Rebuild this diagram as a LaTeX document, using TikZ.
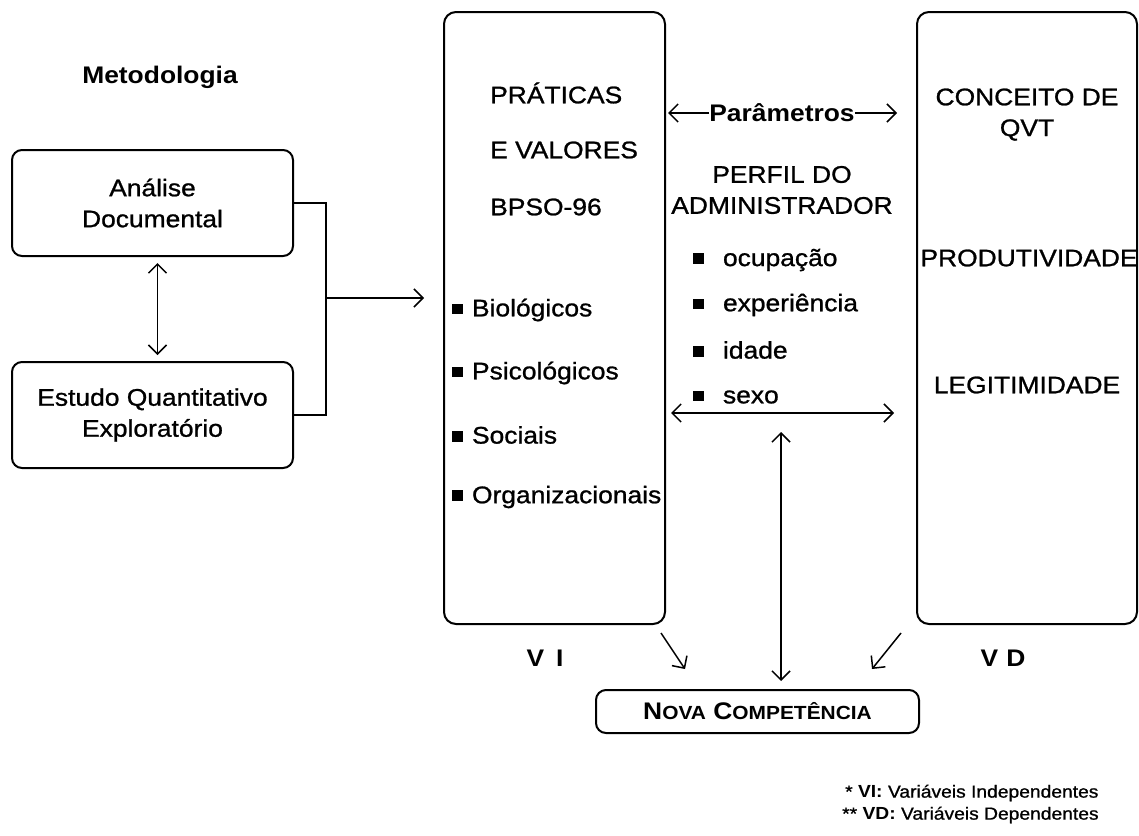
\documentclass[tikz,border=0pt]{standalone}
\usepackage{fontspec}
\setmainfont{Liberation Sans}[FakeStretch=1.1,UprightFeatures={FakeBold=1.0}]
\usetikzlibrary{arrows.meta,calc}
\newcommand\sqb{\rule[0.08em]{0.45em}{0.45em}}
\begin{document}
\begin{tikzpicture}[x=1pt,y=-1pt,
  box/.style={draw,line width=2pt,rounded corners=10pt,fill=white,inner sep=0pt},
  txt/.style={font=\fontsize{24}{31}\selectfont,inner sep=0pt},
  btxt/.style={font=\bfseries\fontsize{24}{31}\selectfont,inner sep=0pt},
  arr/.style={line width=1.5pt,-{Straight Barb[length=9pt,width=18pt,line width=1.5pt]}},
  dbl/.style={line width=1.5pt,{Straight Barb[length=9pt,width=18pt,line width=1.5pt]}-{Straight Barb[length=9pt,width=18pt,line width=1.5pt]}},
  note/.style={font=\fontsize{17.5}{20}\selectfont,inner sep=0pt,anchor=west}]
\useasboundingbox (0,0) rectangle (1139,835);

% methodology column
\node[btxt] (met) at (160,77) {Metodologia};
\node[box,txt,minimum width=281pt,minimum height=106pt,align=center] (ana) at (152.5,203) {Análise\\Documental};
\node[box,txt,minimum width=281pt,minimum height=106pt,align=center] (est) at (152.5,415) {Estudo Quantitativo\\Exploratório};
\draw[dbl,shorten <=6pt,shorten >=6pt] ($(ana.south)+(5,0)$) -- ($(est.north)+(5,0)$);
\coordinate (jn) at (326,298);
\draw[line width=1.5pt] (ana.east) -| (jn) |- (est.east);

% independent variables
\node[box,rounded corners=12pt,minimum width=221pt,minimum height=612pt] (prat) at (554.5,318) {};
\draw[arr,shorten >=19pt] (jn) -- (prat.west |- jn);
\node[txt,anchor=west] (p1) at (490,93) {PRÁTICAS};
\node[txt,anchor=west] (p2) at (490,150) {E VALORES};
\node[txt,anchor=west] (p3) at (490,207) {BPSO-96};
\node[txt,anchor=west] (b1) at (452,310) {\sqb\hspace{9pt}Biológicos};
\node[txt,anchor=west] (b2) at (452,373) {\sqb\hspace{9pt}Psicológicos};
\node[txt,anchor=west] (b3) at (452,435) {\sqb\hspace{9pt}Sociais};
\node[txt,anchor=west] (b4) at (452,497) {\sqb\hspace{9pt}Organizacionais};
\node[btxt] (vi) at (545,658) {V\hspace{12pt}I};

% dependent variables
\node[box,rounded corners=12pt,minimum width=220pt,minimum height=612pt] (qvt) at (1027,318) {};
\node[txt] (q1) at (1027,97) {CONCEITO DE};
\node[txt] (q2) at (1027,130) {QVT};
\node[txt] (q3) at (1029,258) {PRODUTIVIDADE};
\node[txt] (q4) at (1027,385) {LEGITIMIDADE};
\node[btxt] (vd) at (1003,658) {V\hspace{8pt}D};

% administrator profile
\node[btxt,fill=white] (par) at (782,113) {Parâmetros};
\draw[arr,shorten >=2pt] (par.west) -- (prat.east |- par);
\draw[arr,shorten >=19pt] (par.east) -- (qvt.west |- par);
\node[txt,align=center] (perf) at (782,190) {PERFIL DO\\ADMINISTRADOR};
\node[txt,anchor=west] (r1) at (693,260) {\sqb\hspace{19pt}ocupação};
\node[txt,anchor=west] (r2) at (693,305) {\sqb\hspace{19pt}experiência};
\node[txt,anchor=west] (r3) at (693,350) {\sqb\hspace{19pt}idade};
\node[txt,anchor=west] (r4) at (693,397) {\sqb\hspace{19pt}sexo};
\coordinate (hl) at (781,413);
\draw[dbl,shorten <=5pt,shorten >=22pt] (prat.east |- hl) -- (qvt.west |- hl);

% new competence
\node[box,minimum width=323pt,minimum height=43pt] (nova) at (757.5,711.5)
  {\bfseries\fontsize{24}{26}\selectfont N{\fontsize{19}{20}\selectfont OVA} C{\fontsize{19}{20}\selectfont OMPETÊNCIA}};
\draw[dbl,shorten <=19pt,shorten >=8pt] (hl) -- (hl |- nova.north);
\draw[arr] ($(prat.south east)+(-5,8)$) -- ($(nova.north west)+(90,-20)$);
\draw[arr] ($(qvt.south west)+(-15,8)$) -- ($(nova.north east)+(-48,-20)$);

% footnote
\node[note] (n1) at (845,793) {* \textbf{VI:} Variáveis Independentes};
\node[note] (n2) at (842,815) {** \textbf{VD:} Variáveis Dependentes};
\end{tikzpicture}
\end{document}
